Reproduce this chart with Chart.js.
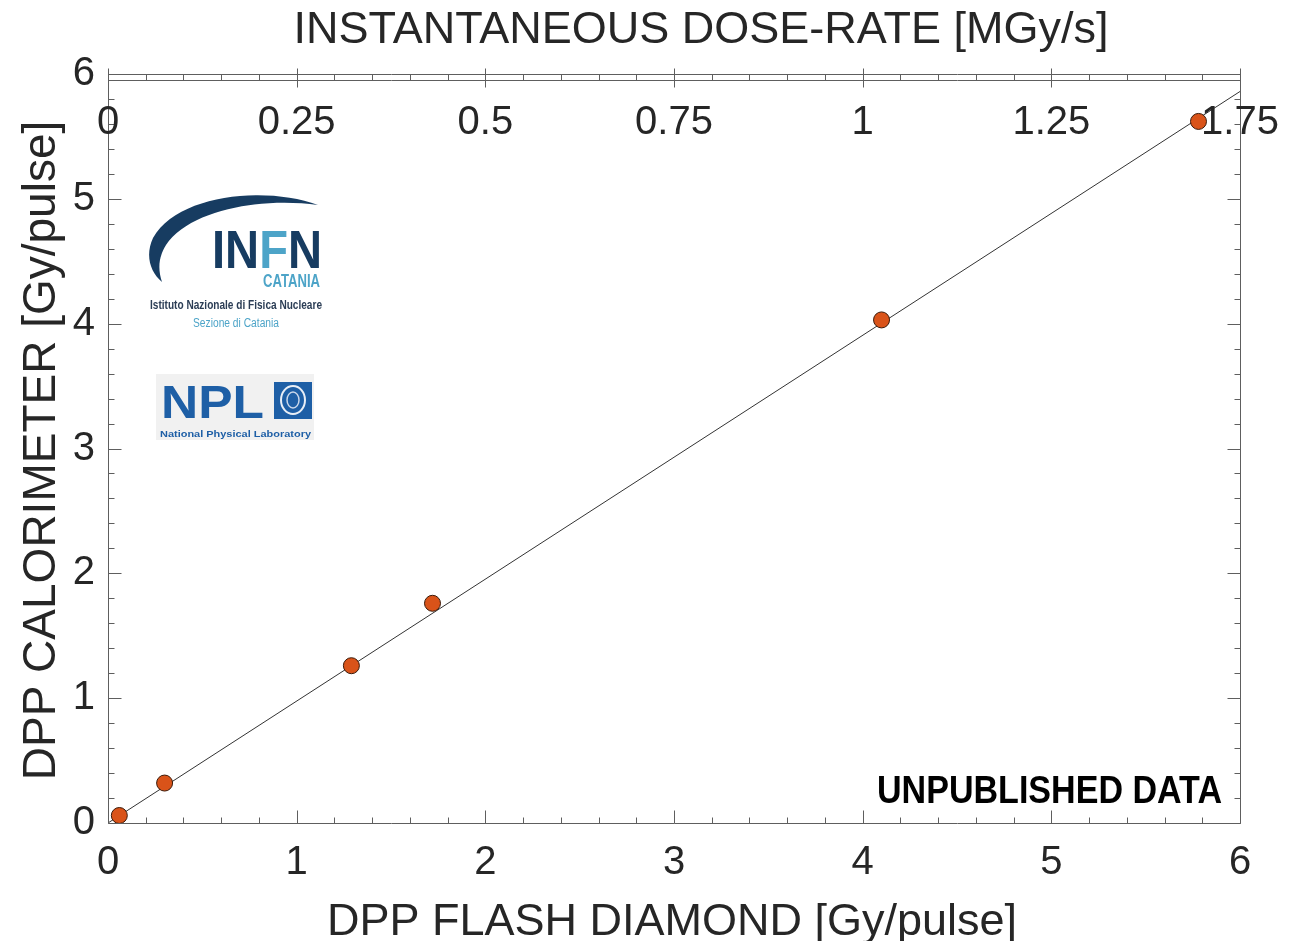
<!DOCTYPE html>
<html>
<head>
<meta charset="utf-8">
<script src="https://cdn.jsdelivr.net/npm/chart.js@4.4.1/dist/chart.umd.min.js"></script>
<style>
  html, body { margin: 0; padding: 0; background: #fff; }
  #wrap { position: relative; width: 1307px; height: 941px; }
  #chart { position: absolute; left: 0; top: 0; }
  #marks { position: absolute; left: 0; top: 0; pointer-events: none; }
</style>
</head>
<body>
<div id="wrap">
  <canvas id="chart" width="1307" height="941"></canvas>
  <svg id="marks" width="1307" height="941" xmlns="http://www.w3.org/2000/svg">
    <!-- INFN Catania logo -->
    <g font-family="'Liberation Sans Narrow','Liberation Sans',Arial,sans-serif">
      <path d="M 318 205 C 266 186, 178 194, 153 238 C 145 255, 150 272, 162 282
               C 158 270, 158 258, 166 245 C 190 209, 264 197, 318 205 Z" fill="#173c61"/>
      <text x="212" y="268" font-size="54" font-weight="bold" fill="#173c61" textLength="110" lengthAdjust="spacingAndGlyphs">IN<tspan fill="#4da4c8">F</tspan>N</text>
      <text x="263" y="287" font-size="18" font-weight="bold" fill="#4da4c8" textLength="57" lengthAdjust="spacingAndGlyphs">CATANIA</text>
      <text x="150" y="309" font-size="13" font-weight="bold" fill="#2b3d55" textLength="172" lengthAdjust="spacingAndGlyphs">Istituto Nazionale di Fisica Nucleare</text>
      <text x="193" y="327" font-size="12" fill="#4da4c8" textLength="86" lengthAdjust="spacingAndGlyphs">Sezione di Catania</text>
    </g>
    <!-- NPL logo -->
    <g font-family="'Liberation Sans',Arial,sans-serif">
      <rect x="156" y="374" width="158" height="66" fill="#f1f1f1"/>
      <text x="161" y="418" font-size="46" font-weight="bold" fill="#1e5fa6" textLength="103" lengthAdjust="spacingAndGlyphs">NPL</text>
      <rect x="274" y="382" width="38" height="37" fill="#1e5fa6"/>
      <ellipse cx="293" cy="400" rx="12" ry="14" fill="none" stroke="#e8eef6" stroke-width="2"/>
      <ellipse cx="293" cy="400" rx="6" ry="8" fill="none" stroke="#c8d6ea" stroke-width="1.5"/>
      <text x="160" y="437" font-size="9" font-weight="bold" fill="#1e5fa6" textLength="151" lengthAdjust="spacingAndGlyphs">National Physical Laboratory</text>
    </g>
    <text x="877" y="803" font-family="'Liberation Sans',Arial,sans-serif" font-size="38" font-weight="bold" fill="#000" textLength="345" lengthAdjust="spacingAndGlyphs">UNPUBLISHED DATA</text>
  </svg>
</div>
<script>
// Dose per pulse measured by the flash diamond and by the calorimeter (Gy/pulse)
const diamondDpp = [0.06, 0.30, 1.29, 1.72, 4.10, 5.78];
const calorimeterDpp = [0.06, 0.32, 1.26, 1.76, 4.03, 5.62];

// Linear fit drawn across the full axis range
const fitX = [0, 6];
const fitY = [0, 5.86];

// Secondary (top) axis: instantaneous dose-rate in MGy/s
const topTickValues = [0, 0.25, 0.5, 0.75, 1, 1.25, 1.5];
const topTickLabels = ['0', '0.25', '0.5', '0.75', '1', '1.25', '1.75'];

const xTitle = 'DPP FLASH DIAMOND [Gy/pulse]';
const yTitle = 'DPP CALORIMETER [Gy/pulse]';
const topTitle = 'INSTANTANEOUS DOSE-RATE [MGy/s]';

const TEXT = '#262626';
const AXIS = '#5e5e5e';
const FONT = "'Liberation Sans', Arial, Helvetica, sans-serif";

// Box frame, inward tick marks, top-axis labels and axis titles
const framePlugin = {
  id: 'frame',
  afterDraw(chart) {
    const { ctx, chartArea: a, scales } = chart;
    const x = scales.x, y = scales.y, x2 = scales.x2;
    ctx.save();
    ctx.strokeStyle = AXIS;
    ctx.lineWidth = 1;
    const L = Math.round(a.left) + 0.5, R = Math.round(a.right) + 0.5;
    const T = Math.round(a.top) + 0.5, B = Math.round(a.bottom) + 0.5;
    ctx.beginPath();
    ctx.rect(L, T, R - L, B - T);
    ctx.moveTo(L, T + 6); ctx.lineTo(R, T + 6);
    ctx.stroke();

    ctx.beginPath();
    // bottom axis ticks (every 0.2), pointing up
    for (let i = 0; i <= 30; i++) {
      const px = Math.round(x.getPixelForValue(i * 0.2)) + 0.5;
      const len = i % 5 === 0 ? 13 : 6;
      ctx.moveTo(px, B); ctx.lineTo(px, B - len);
    }
    // left and right axis ticks (every 0.2)
    for (let i = 0; i <= 30; i++) {
      const py = Math.round(y.getPixelForValue(i * 0.2)) + 0.5;
      const len = i % 5 === 0 ? 13 : 6;
      ctx.moveTo(L, py); ctx.lineTo(L + len, py);
      ctx.moveTo(R, py); ctx.lineTo(R - len, py);
    }
    // top axis ticks (every 0.05 MGy/s)
    for (let i = 0; i <= 30; i++) {
      const px = Math.round(x2.getPixelForValue(i * 0.05)) + 0.5;
      if (i % 5 === 0) { ctx.moveTo(px, T - 6); ctx.lineTo(px, T + 13); }
      else { ctx.moveTo(px, T); ctx.lineTo(px, T + 6); }
    }
    ctx.stroke();

    ctx.fillStyle = TEXT;
    // top axis labels sit just inside the frame
    ctx.font = '40px ' + FONT;
    ctx.textAlign = 'center';
    ctx.textBaseline = 'alphabetic';
    topTickValues.forEach((v, i) => {
      ctx.fillText(topTickLabels[i], x2.getPixelForValue(v), T + 59);
    });

    // axis titles
    ctx.font = '45px ' + FONT;
    ctx.fillText(topTitle, 701, 43);
    ctx.fillText(xTitle, (a.left + a.right) / 2 - 2, 935);
    ctx.save();
    ctx.translate(55, (a.top + a.bottom) / 2 + 2);
    ctx.rotate(-Math.PI / 2);
    ctx.font = '46px ' + FONT;
    ctx.fillText(yTitle, 0, 0);
    ctx.restore();
    ctx.restore();
  }
};

new Chart(document.getElementById('chart'), {
  type: 'scatter',
  data: {
    datasets: [
      {
        label: 'fit',
        type: 'line',
        data: fitX.map((v, i) => ({ x: v, y: fitY[i] })),
        borderColor: '#333333',
        borderWidth: 1,
        pointRadius: 0,
        fill: false,
        order: 2
      },
      {
        label: 'DPP',
        data: diamondDpp.map((v, i) => ({ x: v, y: calorimeterDpp[i] })),
        backgroundColor: '#d95319',
        borderColor: '#3a1a0a',
        borderWidth: 1,
        pointRadius: 8,
        order: 1
      }
    ]
  },
  options: {
    responsive: false,
    animation: false,
    layout: { padding: { left: 0, right: 67, top: 0, bottom: 0 } },
    plugins: { legend: { display: false }, tooltip: { enabled: false } },
    scales: {
      x: {
        type: 'linear', position: 'bottom', min: 0, max: 6,
        ticks: { stepSize: 1, color: TEXT, font: { family: FONT, size: 40 }, padding: 16, maxRotation: 0 },
        grid: { display: false, drawTicks: false },
        border: { display: false },
        afterFit(s) { s.height = 118; }
      },
      x2: {
        type: 'linear', position: 'top', min: 0, max: 1.5,
        ticks: { display: false },
        grid: { display: false, drawTicks: false },
        border: { display: false },
        afterFit(s) { s.height = 74; }
      },
      y: {
        type: 'linear', position: 'left', min: 0, max: 6,
        ticks: { stepSize: 1, color: TEXT, font: { family: FONT, size: 40 }, padding: 13 },
        grid: { display: false, drawTicks: false },
        border: { display: false },
        afterFit(s) { s.width = 108; }
      }
    }
  },
  plugins: [framePlugin]
});
</script>
</body>
</html>
